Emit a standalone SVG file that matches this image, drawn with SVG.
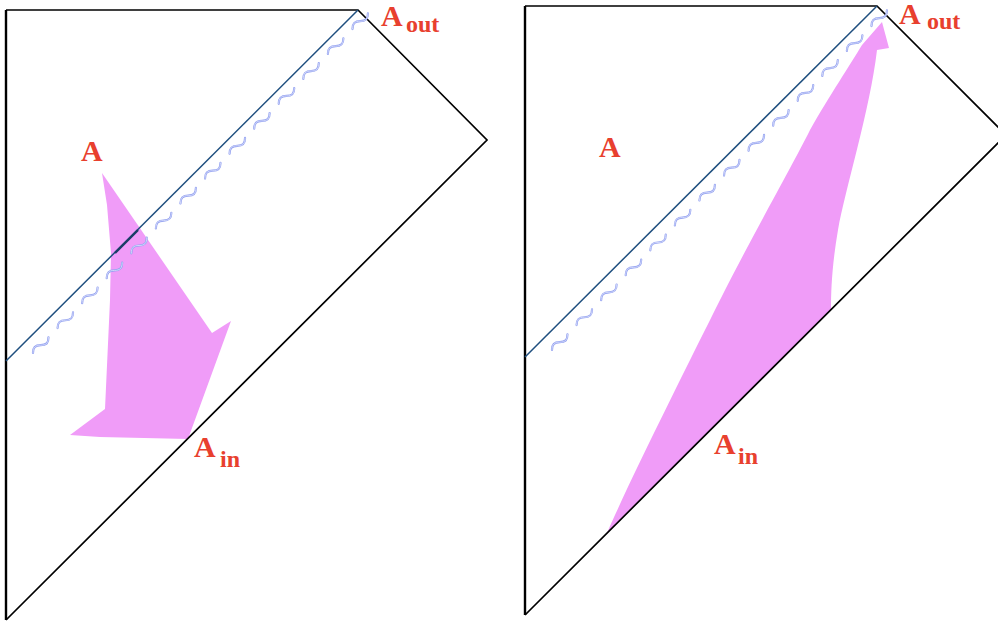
<svg xmlns="http://www.w3.org/2000/svg" xmlns:xlink="http://www.w3.org/1999/xlink" width="998" height="621" viewBox="0 0 998 621">
<style>
.frame{fill:none;stroke:#000;stroke-width:1.7;stroke-linejoin:miter}
.edge{fill:none;stroke:#000;stroke-width:2.4}
.hor{fill:none;stroke:#1f4f7f;stroke-width:1.5}
.wav1{fill:none;stroke:#92a0f0;stroke-width:2.2;stroke-linecap:round}
.wav2{fill:none;stroke:#e6e9fc;stroke-width:0.7;stroke-linecap:round}
.blob{fill:#f09cf8;stroke:none}
.lbl{font-family:"Liberation Serif","Times New Roman",serif;font-weight:bold;fill:#e8402e}
.big{font-size:30px}
.sub{font-size:24px}
</style>
<defs>
<path id="wave" d="M0,0 c4,-4 7,-4 11,0 s7,4 11,0 m13,0 c4,-4 7,-4 11,0 s7,4 11,0 m13,0 c4,-4 7,-4 11,0 s7,4 11,0 m13,0 c4,-4 7,-4 11,0 s7,4 11,0 m13,0 c4,-4 7,-4 11,0 s7,4 11,0 m13,0 c4,-4 7,-4 11,0 s7,4 11,0 m13,0 c4,-4 7,-4 11,0 s7,4 11,0 m13,0 c4,-4 7,-4 11,0 s7,4 11,0 m13,0 c4,-4 7,-4 11,0 s7,4 11,0 m13,0 c4,-4 7,-4 11,0 s7,4 11,0 m13,0 c4,-4 7,-4 11,0 s7,4 11,0 m13,0 c4,-4 7,-4 11,0 s7,4 11,0 m13,0 c4,-4 7,-4 11,0 s7,4 11,0 m13,0 c4,-4 7,-4 11,0 s7,4 11,0"/>
</defs>
<rect width="998" height="621" fill="#fff"/>

<g id="left-diagram">
  <path id="left-blob" class="blob" d="M102,173 L212,333 L231,321 L188,439 L100,437 L70,435 L105,409 L110,300 L111,253 L107,205 Z"/>
  <g id="left-frame">
    <path class="frame" d="M6,10 L358,10 L487,140 L6,620"/>
    <path class="edge" d="M6,10 L6,620"/>
  </g>
  <g id="left-horizon">
    <path class="hor" d="M6,361 L358,10"/>
    <path fill="none" stroke="#1a3d66" stroke-width="2.4" d="M115,253 L138,230"/>
  </g>
  <g id="left-wave" transform="translate(33,353) rotate(-45.4)">
    <use xlink:href="#wave" class="wav1"/>
    <use xlink:href="#wave" class="wav2"/>
  </g>
  <g id="left-labels">
    <text class="lbl big" x="381" y="26">A</text>
    <text class="lbl sub" x="406" y="32">out</text>
    <text class="lbl big" x="81" y="161">A</text>
    <text class="lbl big" x="194" y="457">A</text>
    <text class="lbl sub" x="220" y="467">in</text>
  </g>
</g>

<g id="right-diagram">
  <path id="right-blob" class="blob" d="M607,533 C630,480 690,360 720,300 C750,240 790,170 810,130 C830,95 850,65 862,45 L882,22 L889,48 L877,50 C870,110 845,190 838,230 C832,265 831,290 831,309 Z"/>
  <g id="right-frame">
    <path class="frame" d="M525,6 L877,6 L1006,135 L525,615"/>
    <path class="edge" d="M525,6 L525,615"/>
  </g>
  <g id="right-horizon">
    <path class="hor" d="M525,357 L877,6"/>
  </g>
  <g id="right-wave" transform="translate(552,350) rotate(-45.4)">
    <use xlink:href="#wave" class="wav1"/>
    <use xlink:href="#wave" class="wav2"/>
  </g>
  <g id="right-labels">
    <text class="lbl big" x="899" y="24">A</text>
    <text class="lbl sub" x="927" y="29">out</text>
    <text class="lbl big" x="599" y="157">A</text>
    <text class="lbl big" x="714" y="454">A</text>
    <text class="lbl sub" x="738" y="464">in</text>
  </g>
</g>
</svg>
